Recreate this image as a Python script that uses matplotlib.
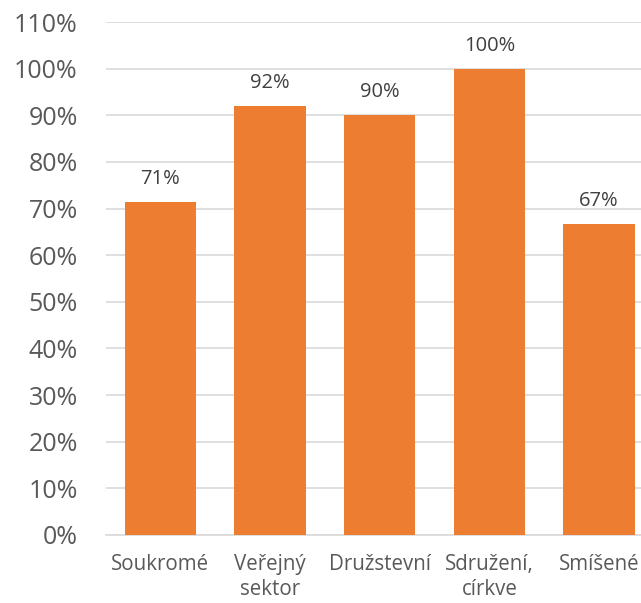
import matplotlib.pyplot as plt
from matplotlib.ticker import PercentFormatter

kategorie = ['Soukromé', 'Veřejný\nsektor', 'Družstevní', 'Sdružení,\ncírkve', 'Smíšené']
hodnoty = [71.4, 91.9, 90.0, 100.0, 66.7]
popisky = ['71%', '92%', '90%', '100%', '67%']

plt.rcParams['font.family'] = ['Open Sans', 'DejaVu Sans']
seda = '#595959'

fig = plt.figure(figsize=(6.41, 6.03), dpi=100)
ax = fig.add_axes([105.5 / 641, 68 / 603, 548.5 / 641, 513 / 603])

x = range(len(kategorie))
ax.bar(x, hodnoty, width=0.65, color='#ED7D31', zorder=3)
for xi, h, t in zip(x, hodnoty, popisky):
    ax.annotate(t, (xi, h), xytext=(0, 13), textcoords='offset points',
                ha='center', va='baseline', fontsize=14.5, color='#404040')

ax.set_ylim(0, 110)
ax.set_xlim(-0.5, len(kategorie) - 0.5)
ax.set_yticks(range(0, 111, 10))
ax.yaxis.set_major_formatter(PercentFormatter(decimals=0))
ax.grid(axis='y', color='#D9D9D9', linewidth=1.2, zorder=0)
ax.set_xticks(list(x))
ax.set_xticklabels(kategorie, fontsize=14.8, color=seda, linespacing=1.2)
for s in ['top', 'right', 'left']:
    ax.spines[s].set_visible(False)
ax.spines['bottom'].set_color('#D9D9D9')
ax.spines['bottom'].set_linewidth(1.2)
ax.tick_params(axis='y', length=0, pad=20, labelsize=18, labelcolor=seda)
ax.tick_params(axis='x', length=0, pad=14)

fig.savefig('out.png', dpi=100)
